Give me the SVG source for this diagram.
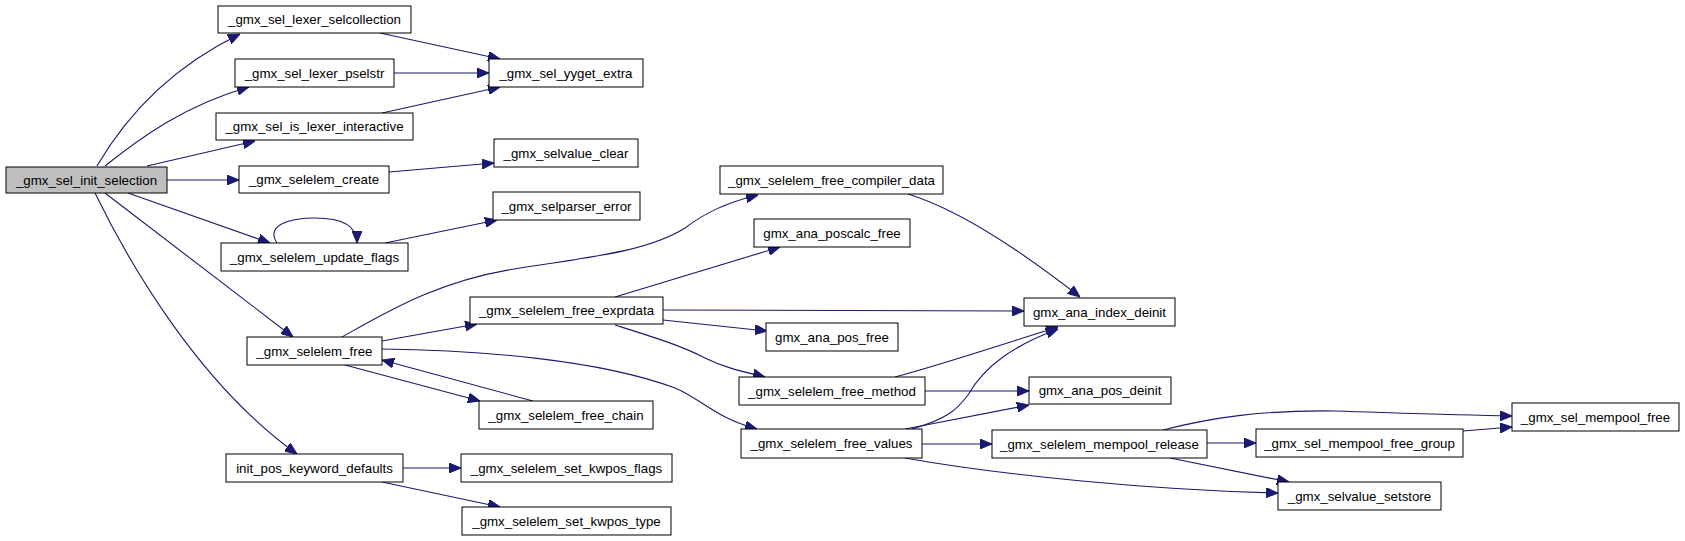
<svg xmlns="http://www.w3.org/2000/svg" width="1685" height="541" viewBox="0 0 1685 541">
<style>
.n rect{fill:#ffffff;stroke:#000000;stroke-width:1}
.n text{font-family:"Liberation Sans",Arial,sans-serif;font-size:13.3px;text-anchor:middle;fill:#000000}
#e path{fill:none;stroke:#191970;stroke-width:1.1;marker-end:url(#ah)}
</style>
<defs>
<marker id="ah" markerUnits="userSpaceOnUse" markerWidth="12" markerHeight="10" refX="12" refY="5" orient="auto" viewBox="0 0 12 10">
<path d="M0,0 L12,5 L0,10 z" fill="#191970" stroke="#191970" stroke-width="1"/>
</marker>
</defs>
<rect width="1685" height="541" fill="#ffffff"/>
<g id="e">
<path d="M97,166 C125,118 170,68 240,34"/>
<path d="M105,166 C140,138 185,105 249,87"/>
<path d="M147,166 L255,141"/>
<path d="M167,180 L239,180"/>
<path d="M128,193 L270,243"/>
<path d="M105,193 L293,337"/>
<path d="M95,193 C130,265 200,385 297,454"/>
<path d="M277,243 C265,225 290,218 315,218 C340,218 357,225 357,243"/>
<path d="M380,33 L500,59"/>
<path d="M394,73 L489,73"/>
<path d="M382,113 L500,87"/>
<path d="M389,172 L494,163"/>
<path d="M385,243 L497,220"/>
<path d="M342,337 C390,310 440,280 520,268 C600,256 650,250 685,228 C705,213 725,203 758,195"/>
<path d="M382,341 L477,324"/>
<path d="M382,349 C480,350 600,360 675,388 C700,398 715,418 757,429"/>
<path d="M345,365 L480,401"/>
<path d="M533,401 L382,360"/>
<path d="M615,297 L780,247"/>
<path d="M663,310 L1024,311"/>
<path d="M663,320 L767,331"/>
<path d="M615,325 C650,336 680,345 705,358 C725,368 745,372 765,377"/>
<path d="M908,194 C960,210 1020,250 1080,297"/>
<path d="M895,377 C950,362 1000,345 1058,327"/>
<path d="M925,391 L1029,391"/>
<path d="M912,429 C950,418 958,408 968,395 C985,365 1015,345 1058,329"/>
<path d="M905,429 L1029,405"/>
<path d="M922,444 L992,444"/>
<path d="M905,458 C1000,475 1150,490 1278,493"/>
<path d="M1207,443 L1256,443"/>
<path d="M1170,458 L1289,482"/>
<path d="M1163,430 C1210,418 1260,410 1335,411 C1400,413 1450,415 1512,416"/>
<path d="M1463,431 L1512,427"/>
<path d="M403,468 L461,468"/>
<path d="M382,482 L500,507"/>
</g>
<g id="n1" class="n"><rect x="6" y="167" width="161" height="26" style="fill:#bfbfbf"/><text x="86.5" y="184.5">_gmx_sel_init_selection</text></g>
<g id="n2" class="n"><rect x="218" y="6" width="193" height="27"/><text x="314.5" y="24">_gmx_sel_lexer_selcollection</text></g>
<g id="n3" class="n"><rect x="235" y="59" width="159" height="28"/><text x="314.5" y="77.5">_gmx_sel_lexer_pselstr</text></g>
<g id="n4" class="n"><rect x="216" y="113" width="197" height="27"/><text x="314.5" y="131">_gmx_sel_is_lexer_interactive</text></g>
<g id="n5" class="n"><rect x="239" y="166" width="150" height="27"/><text x="314" y="184">_gmx_selelem_create</text></g>
<g id="n6" class="n"><rect x="221" y="243" width="187" height="28"/><text x="314.5" y="261.5">_gmx_selelem_update_flags</text></g>
<g id="n7" class="n"><rect x="247" y="337" width="135" height="28"/><text x="314.5" y="355.5">_gmx_selelem_free</text></g>
<g id="n8" class="n"><rect x="226" y="454" width="177" height="28"/><text x="314.5" y="472.5">init_pos_keyword_defaults</text></g>
<g id="n9" class="n"><rect x="489" y="59" width="154" height="28"/><text x="566" y="77.5">_gmx_sel_yyget_extra</text></g>
<g id="n10" class="n"><rect x="494" y="139" width="144" height="28"/><text x="566" y="157.5">_gmx_selvalue_clear</text></g>
<g id="n11" class="n"><rect x="493" y="192" width="147" height="28"/><text x="566.5" y="210.5">_gmx_selparser_error</text></g>
<g id="n12" class="n"><rect x="720" y="166" width="223" height="28"/><text x="831.5" y="184.5">_gmx_selelem_free_compiler_data</text></g>
<g id="n13" class="n"><rect x="754" y="219" width="156" height="28"/><text x="832" y="237.5">gmx_ana_poscalc_free</text></g>
<g id="n14" class="n"><rect x="470" y="297" width="193" height="27"/><text x="566.5" y="315">_gmx_selelem_free_exprdata</text></g>
<g id="n15" class="n"><rect x="766" y="323" width="132" height="28"/><text x="832" y="341.5">gmx_ana_pos_free</text></g>
<g id="n16" class="n"><rect x="739" y="377" width="186" height="28"/><text x="832" y="395.5">_gmx_selelem_free_method</text></g>
<g id="n17" class="n"><rect x="479" y="401" width="174" height="28"/><text x="566" y="419.5">_gmx_selelem_free_chain</text></g>
<g id="n18" class="n"><rect x="741" y="429" width="181" height="29"/><text x="831.5" y="448">_gmx_selelem_free_values</text></g>
<g id="n19" class="n"><rect x="461" y="454" width="211" height="28"/><text x="566.5" y="472.5">_gmx_selelem_set_kwpos_flags</text></g>
<g id="n20" class="n"><rect x="462" y="507" width="209" height="28"/><text x="566.5" y="525.5">_gmx_selelem_set_kwpos_type</text></g>
<g id="n21" class="n"><rect x="1024" y="298" width="151" height="28"/><text x="1099.5" y="316.5">gmx_ana_index_deinit</text></g>
<g id="n22" class="n"><rect x="1029" y="377" width="142" height="27"/><text x="1100" y="395">gmx_ana_pos_deinit</text></g>
<g id="n23" class="n"><rect x="992" y="430" width="215" height="28"/><text x="1099.5" y="448.5">_gmx_selelem_mempool_release</text></g>
<g id="n24" class="n"><rect x="1256" y="429" width="207" height="28"/><text x="1359.5" y="447.5">_gmx_sel_mempool_free_group</text></g>
<g id="n25" class="n"><rect x="1278" y="482" width="163" height="28"/><text x="1359.5" y="500.5">_gmx_selvalue_setstore</text></g>
<g id="n26" class="n"><rect x="1512" y="403" width="167" height="28"/><text x="1595.5" y="421.5">_gmx_sel_mempool_free</text></g>
</svg>
